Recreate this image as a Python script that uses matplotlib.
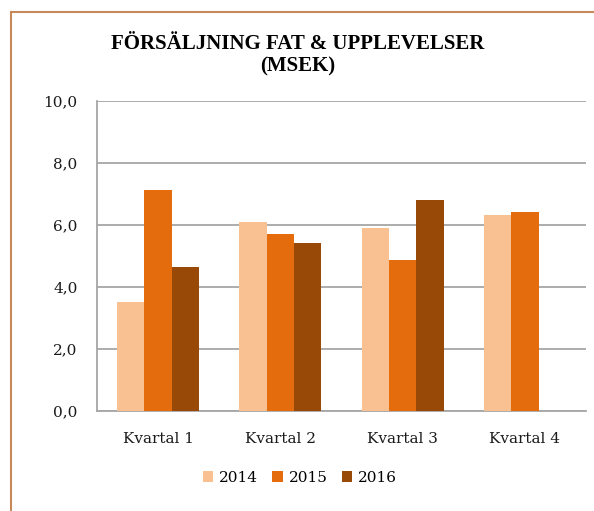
import matplotlib
matplotlib.use("Agg")
import matplotlib.pyplot as plt
from matplotlib.lines import Line2D
import numpy as np

categories = ["Kvartal 1", "Kvartal 2", "Kvartal 3", "Kvartal 4"]
years = ["2014", "2015", "2016"]
v2014 = [3.52, 6.10, 5.90, 6.33]
v2015 = [7.13, 5.71, 4.87, 6.42]
v2016 = [4.65, 5.42, 6.80, 0.0]
colors = ["#F9C191", "#E46C0C", "#984807"]
yticks = [0, 2, 4, 6, 8, 10]
ytick_labels = ["0,0", "2,0", "4,0", "6,0", "8,0", "10,0"]

W, H = 594, 511
fig = plt.figure(figsize=(W/100, H/100), dpi=100)
fig.patch.set_facecolor("white")

# chart frame (left & top border)
fig.add_artist(Line2D([10.5/W, 10.5/W], [0, 1 - 12.5/H], transform=fig.transFigure, color="#C8895A", lw=1.5))
fig.add_artist(Line2D([10.5/W, 1], [1 - 12.5/H, 1 - 12.5/H], transform=fig.transFigure, color="#C8895A", lw=1.5))

left, right = 97/W, 586/W
bottom, top = 1 - 411/H, 1 - 101/H
ax = fig.add_axes([left, bottom, right - left, top - bottom])

x = np.arange(len(categories))
bw = 0.224
series = [v2014, v2015, v2016]
for i, (vals, c, yr) in enumerate(zip(series, colors, years)):
    ax.bar(x + (i - 1) * bw, vals, width=bw, color=c, label=yr, zorder=3)

ax.set_xlim(-0.5, len(categories) - 0.5)
ax.set_ylim(0, 10)
ax.set_yticks(yticks)
ax.set_yticklabels(ytick_labels)
ax.set_xticks(x)
ax.set_xticklabels(categories)
ax.yaxis.grid(True, color="#A6A6A6", lw=1.3, zorder=0)
ax.set_axisbelow(True)
for s in ["top", "right"]:
    ax.spines[s].set_visible(False)
for s in ["left", "bottom"]:
    ax.spines[s].set_color("#A6A6A6")
    ax.spines[s].set_linewidth(1.3)
ax.tick_params(axis="both", length=0, colors="#1a1a1a")
ax.tick_params(axis="y", pad=14)
ax.tick_params(axis="x", pad=15)
for lab in ax.get_xticklabels() + ax.get_yticklabels():
    lab.set_family("DejaVu Serif")
    lab.set_fontsize(11)

fig.text(0.5 + 1/W, 1 - 55/H, "FÖRSÄLJNING FAT & UPPLEVELSER\n(MSEK)", ha="center", va="center",
         fontsize=15, fontweight="bold", family="Liberation Serif", linespacing=1.15, color="black")

leg = fig.legend(loc="center", bbox_to_anchor=(300/W, 1 - 478/H), ncol=3, frameon=False,
                 prop={"family": "DejaVu Serif", "size": 11}, handlelength=0.7, handleheight=0.7,
                 handletextpad=0.4, columnspacing=0.9)

fig.savefig("out.png", dpi=100)
